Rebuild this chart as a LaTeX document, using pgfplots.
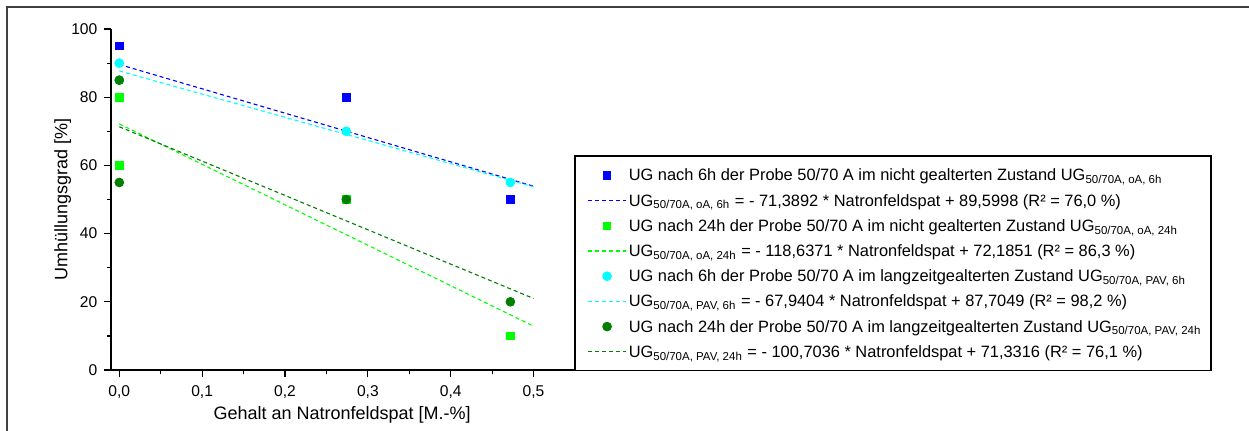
\documentclass[border=0pt]{standalone}
\usepackage{fontspec}
\setmainfont{Liberation Sans}
\usepackage{pgfplots}
\pgfplotsset{compat=1.18}
\definecolor{ugblue}{HTML}{0000FF}
\definecolor{uggreen}{HTML}{00FF00}
\definecolor{ugcyan}{HTML}{00FFFF}
\definecolor{ugdark}{HTML}{007F00}
\pgfplotsset{
  markleg/.style={legend image code/.code={\draw[##1] plot coordinates {(9.5pt,0.4pt)};}},
  lineleg/.style={legend image code/.code={\draw[##1, draw=#1, line width=0.7pt] (0pt,0.5pt) -- (19pt,0.5pt);}},
  fitline/.style={color=#1, draw=#1, line width=0.55pt, dash pattern=on 2pt off 1.5pt, lineleg=#1},
}

\begin{document}
\begin{tikzpicture}
\useasboundingbox (0,0) rectangle (624.5pt,-215pt);
% frame round the figure
\draw[black!75, line width=0.9pt] (3.5pt,-220pt) -- (3.5pt,-3.5pt) -- (630pt,-3.5pt);
% legend frame
\draw[black, line width=0.55pt] (287.5pt,-78pt) rectangle (605.5pt,-185.3pt);
\begin{axis}[
    at={(55.5pt,-185pt)}, anchor=south west,
    scale only axis,
    width=232pt, height=170.5pt,
    xmin=-0.01, xmax=0.55,
    ymin=0, ymax=100,
    axis x line*=bottom, axis y line*=left,
    axis line style={line width=0.7pt},
    xtick={0,0.1,0.2,0.3,0.4,0.5},
    minor x tick num=1,
    ytick={0,20,40,60,80,100},
    minor y tick num=1,
    tick align=outside,
    major tick length=3.3pt, minor tick length=2pt,
    tick style={line width=0.6pt, black},
    /pgf/number format/assume math mode=true,
    x tick label style={/pgf/number format/use comma, /pgf/number format/fixed,
        /pgf/number format/fixed zerofill, /pgf/number format/precision=1, yshift=-1pt},
    tick label style={font=\fontsize{7.8}{9}\selectfont},
    xlabel={Gehalt an Natronfeldspat [M.-\%]},
    ylabel={Umhüllungsgrad [\%]},
    label style={font=\fontsize{9}{11}\selectfont},
    xlabel style={at={(axis description cs:0.498,-0.132)}, anchor=center},
    ylabel style={at={(axis description cs:-0.104,0.5)}, anchor=center},
    clip=false,
    legend cell align=left,
    legend style={at={(1,0)}, anchor=south west, draw=none, fill=none,
        font=\fontsize{8.2}{9.8}\selectfont, inner xsep=6pt, inner ysep=2.2pt,
        row sep=0pt,
        nodes={inner xsep=1pt, inner ysep=1.75pt, text height=6.9pt, text depth=2.2pt}},
]
\addplot[only marks, mark=square*, mark size=1.9pt, color=ugblue, markleg]
    coordinates {(0,95) (0,80) (0.274,80) (0.472,50)};
\addlegendentry{UG nach 6h der Probe 50/70 A im nicht gealterten Zustand UG\textsubscript{50/70A, oA, 6h}}
\addplot[fitline=ugblue]
    coordinates {(0,89.5998) (0.5,53.9052)};
\addlegendentry{UG\textsubscript{50/70A, oA, 6h} = - 71,3892 * Natronfeldspat + 89,5998 (R² = 76,0 \%)}
\addplot[only marks, mark=square*, mark size=1.9pt, color=uggreen, markleg]
    coordinates {(0,80) (0,60) (0.274,50) (0.472,10)};
\addlegendentry{UG nach 24h der Probe 50/70 A im nicht gealterten Zustand UG\textsubscript{50/70A, oA, 24h}}
\addplot[fitline=uggreen]
    coordinates {(0,72.1851) (0.5,12.8665)};
\addlegendentry{UG\textsubscript{50/70A, oA, 24h} = - 118,6371 * Natronfeldspat + 72,1851 (R² = 86,3 \%)}
\addplot[only marks, mark=*, mark size=2.2pt, color=ugcyan, markleg]
    coordinates {(0,90) (0,85) (0.274,70) (0.472,55)};
\addlegendentry{UG nach 6h der Probe 50/70 A im langzeitgealterten Zustand UG\textsubscript{50/70A, PAV, 6h}}
\addplot[fitline=ugcyan]
    coordinates {(0,87.7049) (0.5,53.7347)};
\addlegendentry{UG\textsubscript{50/70A, PAV, 6h} = - 67,9404 * Natronfeldspat + 87,7049 (R² = 98,2 \%)}
\addplot[only marks, mark=*, mark size=2.2pt, color=ugdark, markleg]
    coordinates {(0,85) (0,55) (0.274,50) (0.472,20)};
\addlegendentry{UG nach 24h der Probe 50/70 A im langzeitgealterten Zustand UG\textsubscript{50/70A, PAV, 24h}}
\addplot[fitline=ugdark]
    coordinates {(0,71.3316) (0.5,20.9798)};
\addlegendentry{UG\textsubscript{50/70A, PAV, 24h} = - 100,7036 * Natronfeldspat + 71,3316 (R² = 76,1 \%)}
\end{axis}
\end{tikzpicture}
\end{document}
